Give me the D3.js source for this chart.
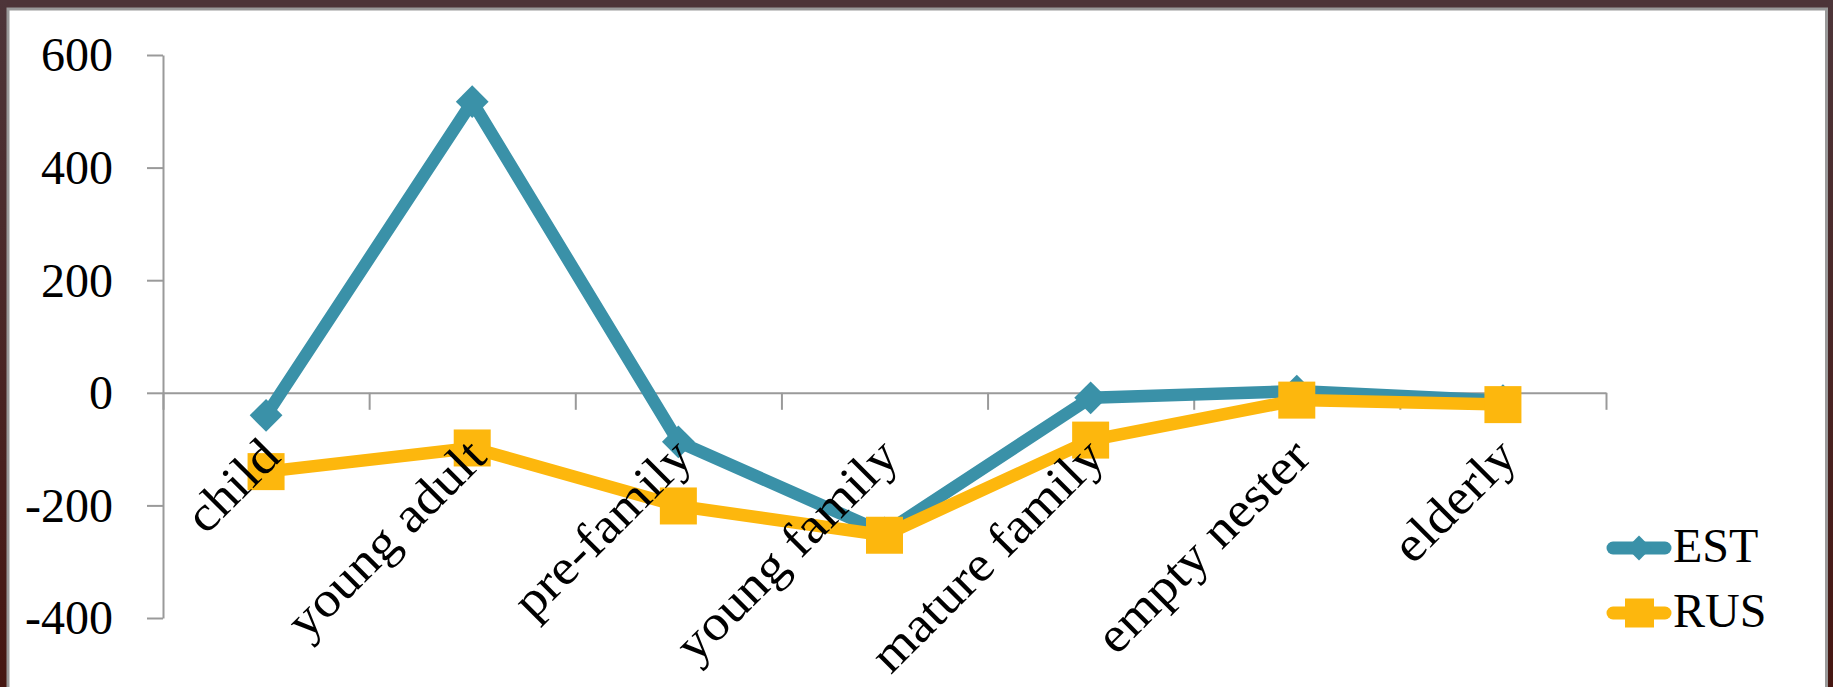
<!DOCTYPE html>
<html><head><meta charset="utf-8">
<script src="https://cdn.jsdelivr.net/npm/d3@7"></script>
<style>html,body{margin:0;padding:0;background:#fff;overflow:hidden}</style>
</head><body>
<svg id="chart" width="1833" height="687"></svg>
<script>
const categories = ["child","young adult","pre-family","young family","mature family","empty nester","elderly"];
const estValues = [-40, 517, -87, -249, -9, 3, -14];
const rusValues = [-140, -98, -201, -253, -84, -13, -21];
const yTicks = [-400, -200, 0, 200, 400, 600];
const seriesNames = ["EST", "RUS"];
const seriesColors = ["#3a91a8", "#fdb70d"];

const W = 1833, H = 687;
const svg = d3.select("#chart");
const font = "'Liberation Serif','Times New Roman',serif";

// frame
const defs = svg.append("defs");
const grad = defs.append("linearGradient").attr("id","side").attr("x1",0).attr("y1",0).attr("x2",0).attr("y2",1);
grad.append("stop").attr("offset","0%").attr("stop-color","#4d3539");
grad.append("stop").attr("offset","100%").attr("stop-color","#461611");
svg.append("rect").attr("x",0).attr("y",0).attr("width",W).attr("height",H).attr("fill","#fff");
svg.append("rect").attr("x",0).attr("y",0).attr("width",W).attr("height",8).attr("fill","#4d3438");
svg.append("rect").attr("x",0).attr("y",0).attr("width",7).attr("height",H).attr("fill","url(#side)");
svg.append("rect").attr("x",1828).attr("y",0).attr("width",5).attr("height",H).attr("fill","url(#side)");
svg.append("path").attr("d","M8,"+H+"V9H1826.5V"+H).attr("fill","none").attr("stroke","#9a9a9a").attr("stroke-width",3);

const x0 = 163, x1 = 1606;
const y = d3.scaleLinear().domain([-400, 600]).range([618, 55]);
const xb = d3.scaleBand().domain(categories).range([x0, x1]).padding(0);
const xc = d => xb(d) + xb.bandwidth()/2;
const xEdge = d3.scaleLinear().domain([0, categories.length]).range([x0, x1]);

// y axis
const gy = svg.append("g").attr("transform", `translate(${x0},0)`)
  .call(d3.axisLeft(y).tickValues(yTicks).tickSize(16).tickSizeOuter(0).tickPadding(34).tickFormat(d => String(d)));
gy.select(".domain").attr("stroke","#9a9a9a").attr("stroke-width",2);
gy.selectAll(".tick line").attr("stroke","#9a9a9a").attr("stroke-width",2);
gy.selectAll(".tick text").attr("font-family",font).attr("font-size",48).attr("fill","#000").attr("dy","0.33em");

// x axis at 0
const gx = svg.append("g").attr("transform", `translate(0,${y(0)})`)
  .call(d3.axisBottom(xEdge).tickValues(d3.range(categories.length+1)).tickSize(17).tickSizeOuter(0).tickFormat(""));
gx.select(".domain").attr("stroke","#9a9a9a").attr("stroke-width",2);
gx.selectAll(".tick line").attr("stroke","#9a9a9a").attr("stroke-width",2);

// series
const series = [estValues, rusValues];
const line = d3.line().x((d,i)=>xc(categories[i])).y(d=>y(d));
series.forEach((vals, si) => {
  const g = svg.append("g");
  g.append("path").datum(vals).attr("d", line).attr("fill","none")
    .attr("stroke", seriesColors[si]).attr("stroke-width",12.5).attr("stroke-linejoin","round").attr("stroke-linecap","round");
  if (si === 0) {
    g.selectAll("path.m").data(vals).join("path").attr("class","m")
      .attr("d", d3.symbol(d3.symbolDiamond2, 37*37/2)())
      .attr("transform",(d,i)=>`translate(${xc(categories[i])},${y(d)})`)
      .attr("fill", seriesColors[si]);
  } else {
    g.selectAll("rect.m").data(vals).join("rect").attr("class","m")
      .attr("x",(d,i)=>xc(categories[i])-18.5).attr("y",d=>y(d)-18.5)
      .attr("width",37).attr("height",37).attr("fill", seriesColors[si]);
  }
});

// category labels
svg.append("g").selectAll("text").data(categories).join("text")
  .attr("transform", d => `translate(${xc(d)+4},${y(0)+54}) rotate(-45) scale(1.13,1.04)`)
  .attr("text-anchor","end").attr("dy","0.35em")
  .attr("font-family",font).attr("font-size",48).attr("fill","#000")
  .text(d=>d);

// legend
const lg = svg.append("g");
seriesNames.forEach((name, i) => {
  const ly = 548 + i*65;
  lg.append("line").attr("x1",1613).attr("x2",1665).attr("y1",ly).attr("y2",ly)
    .attr("stroke",seriesColors[i]).attr("stroke-width",13).attr("stroke-linecap","round");
  if (i === 0) {
    lg.append("path").attr("d", d3.symbol(d3.symbolDiamond2, 28*28/2)())
      .attr("transform",`translate(1639,${ly})`).attr("fill",seriesColors[i]);
  } else {
    lg.append("rect").attr("x",1625).attr("y",ly-14.5).attr("width",29).attr("height",29).attr("fill",seriesColors[i]);
  }
  lg.append("text").attr("x",1673).attr("y",ly+14).attr("font-family",font).attr("font-size",48).attr("fill","#000").text(name);
});
</script>
</body></html>
